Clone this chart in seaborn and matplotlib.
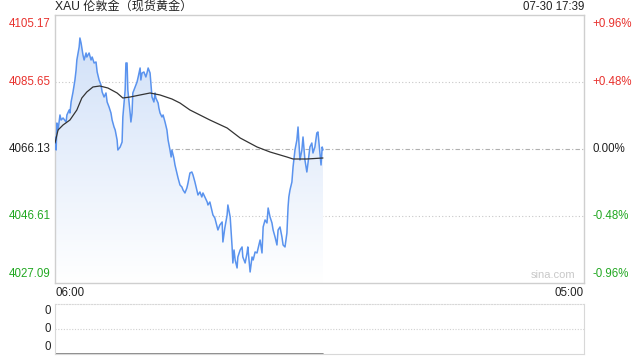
import numpy as np
import pandas as pd
import matplotlib
matplotlib.use("Agg")
import matplotlib.pyplot as plt
import seaborn as sns
from matplotlib.patches import Polygon
from matplotlib.colors import LinearSegmentedColormap

# ---------------- data ----------------
title = "XAU 伦敦金（现货黄金）"
stamp = "07-30 17:39"
prev_close = 4066.13
left_ticks = [4105.17, 4085.65, 4066.13, 4046.61, 4027.09]
right_ticks = ["+0.96%", "+0.48%", "0.00%", "-0.48%", "-0.96%"]
x_labels = ["06:00", "05:00"]
session_minutes = 1380  # 06:00 -> 05:00 next day

minutes = [0, 3, 5, 8, 13, 16, 21, 29, 31, 37, 39, 42, 47, 52, 55, 57, 63, 65, 68, 73,
           76, 81, 83, 89, 94, 97, 102, 107, 110, 115, 120, 123, 128, 133, 136, 141, 146, 149, 154, 157,
           162, 164, 170, 175, 177, 183, 185, 188, 190, 196, 198, 201, 203, 209, 214, 217, 222, 224, 227, 232,
           237, 240, 243, 248, 250, 253, 258, 261, 263, 269, 271, 274, 279, 282, 287, 292, 295, 300, 303, 305,
           310, 313, 318, 321, 326, 331, 334, 339, 344, 347, 352, 357, 360, 365, 370, 373, 378, 383, 386, 391,
           397, 399, 404, 410, 412, 417, 423, 425, 430, 436, 438, 443, 449, 451, 457, 462, 464, 467, 470, 475,
           477, 483, 488, 490, 496, 501, 503, 509, 514, 517, 522, 527, 530, 535, 540, 543, 548, 553, 556, 561,
           566, 569, 574, 579, 582, 587, 592, 595, 600, 605, 608, 610, 613, 618, 621, 626, 631, 634, 637, 639,
           644, 647, 652, 657, 660, 665, 670, 673, 678, 683, 686, 691, 694, 697, 699]
prices = [4069.63, 4065.84, 4073.71, 4071.67, 4076.04, 4074.58, 4075.17, 4074.00, 4076.04, 4077.50,
          4076.62, 4079.83, 4082.74, 4086.24, 4089.15, 4092.06, 4095.85, 4098.47, 4097.01, 4093.52,
          4092.06, 4094.10, 4092.93, 4094.10, 4092.06, 4092.93, 4091.19, 4091.48, 4088.57, 4086.24,
          4084.78, 4082.74, 4081.28, 4082.45, 4079.83, 4078.37, 4076.62, 4074.58, 4072.54, 4071.67,
          4068.76, 4065.84, 4066.72, 4068.17, 4075.46, 4083.32, 4091.19, 4091.19, 4083.32, 4076.62,
          4074.00, 4076.62, 4082.45, 4084.20, 4085.65, 4087.11, 4089.73, 4086.24, 4088.27, 4088.57,
          4087.11, 4088.27, 4089.73, 4088.27, 4085.36, 4081.28, 4079.83, 4082.45, 4080.99, 4079.53,
          4078.08, 4076.62, 4075.46, 4076.04, 4074.00, 4071.67, 4068.76, 4065.84, 4063.80, 4065.84,
          4063.51, 4061.47, 4059.14, 4057.69, 4055.65, 4055.06, 4054.19, 4053.32, 4054.77, 4056.23,
          4059.14, 4059.43, 4058.56, 4056.52, 4054.19, 4052.73, 4053.61, 4052.15, 4053.32, 4052.15,
          4050.69, 4049.82, 4050.69, 4047.78, 4046.91, 4046.03, 4043.41, 4042.54, 4043.99, 4044.87,
          4039.04, 4043.12, 4046.91, 4049.82, 4046.32, 4037.59, 4032.92, 4036.71, 4033.80, 4031.47,
          4034.67, 4036.71, 4037.59, 4034.67, 4032.92, 4035.84, 4037.59, 4030.30, 4034.67, 4033.80,
          4036.13, 4035.84, 4037.29, 4039.62, 4035.84, 4043.41, 4045.45, 4044.58, 4048.94, 4046.32,
          4044.58, 4042.54, 4040.50, 4038.17, 4042.54, 4043.41, 4040.50, 4038.17, 4037.59, 4041.66,
          4049.24, 4052.15, 4054.19, 4056.52, 4060.89, 4065.84, 4068.76, 4072.54, 4066.72, 4062.93,
          4065.84, 4069.63, 4062.93, 4059.43, 4062.05, 4066.72, 4067.88, 4064.97, 4066.72, 4070.80,
          4071.09, 4065.26, 4061.47, 4066.72, 4065.84]

avg_minutes = [0, 8, 21, 39, 57, 70, 83, 99, 117, 138, 162, 177, 196, 222, 248, 274, 305, 326, 352,
               378, 404, 449, 483, 527, 561, 605, 621, 657, 699]
avg_prices = [4067.88, 4071.67, 4073.13, 4074.58, 4077.50, 4080.99, 4082.74, 4084.20, 4084.49, 4083.90,
              4082.45, 4080.99, 4081.28, 4081.87, 4082.45, 4081.87, 4080.70, 4079.53, 4077.50, 4076.04,
              4074.58, 4072.25, 4069.34, 4066.72, 4065.26, 4063.80, 4063.22, 4063.22, 4063.51]

volume_labels = ["0", "0", "0"]

# ---------------- style ----------------
sns.set_style("white")
plt.rcParams["font.family"] = ["Liberation Sans", "Noto Sans CJK SC", "DejaVu Sans"]

RED = "#e8322e"
GREEN = "#22a822"
DARK = "#222222"
LINE = "#5a93ee"
BORDER = "#cfcfcf"

fig = plt.figure(figsize=(6.4, 3.6), dpi=100)
W, H = 640, 360
ax = fig.add_axes([55 / W, 1 - 283 / H, 529 / W, 268 / H])
axv = fig.add_axes([55 / W, 1 - 354 / H, 529 / W, 50 / H])

ymin, ymax = left_ticks[-1], left_ticks[0]

df = pd.DataFrame({"minute": minutes, "price": prices})
dfa = pd.DataFrame({"minute": avg_minutes, "price": avg_prices})

# gradient fill under the price line
xs = np.asarray(minutes, float)
ys = np.asarray(prices, float)
verts = np.column_stack([np.r_[xs[0], xs, xs[-1]], np.r_[ymin, ys, ymin]])
patch = Polygon(verts, closed=True, facecolor="none", edgecolor="none")
ax.add_patch(patch)
cmap = LinearSegmentedColormap.from_list("g", ["#ffffff", "#d0e0f8"])
grad = np.linspace(0, 1, 256).reshape(-1, 1)
im = ax.imshow(grad, extent=[xs[0], xs[-1], ymin, 4100], origin="lower",
               aspect="auto", cmap=cmap, zorder=1)
im.set_clip_path(patch)

# reference lines
for v in (left_ticks[1], left_ticks[3]):
    ax.axhline(v, color="#c8c8c8", lw=0.8, ls=(0, (1, 2)), zorder=0.5)
ax.axhline(prev_close, color="#b0b0b0", lw=0.8, ls=(0, (4, 2, 1, 2)), zorder=0.5)

sns.lineplot(data=df, x="minute", y="price", ax=ax, color=LINE, lw=1.1, zorder=3)
sns.lineplot(data=dfa, x="minute", y="price", ax=ax, color="#333333", lw=0.9, zorder=4)

ax.set_xlim(0, session_minutes)
ax.set_ylim(ymin, ymax)
ax.set_xticks([])
ax.set_yticks([])
ax.set_xlabel("")
ax.set_ylabel("")
for s in ax.spines.values():
    s.set_color(BORDER)
    s.set_linewidth(1.0)

# left & right axis labels
cols = [RED, RED, DARK, GREEN, GREEN]
vas = ["top", "center", "center", "center", "bottom"]
offs = [-2, 0, 0, 0, 2]
for v, r, c, va, o in zip(left_ticks, right_ticks, cols, vas, offs):
    ax.annotate(f"{v:.2f}", xy=(0, v), xycoords=("axes fraction", "data"),
                xytext=(-3, o), textcoords="offset points", ha="right", va=va,
                fontsize=8.3, color=c)
    ax.annotate(r, xy=(1, v), xycoords=("axes fraction", "data"),
                xytext=(6, o), textcoords="offset points", ha="left", va=va,
                fontsize=8.3, color=c)

fig.text(55 / W, 1 - 7 / H, title, ha="left", va="center", fontsize=8.7, color=DARK)
fig.text(584 / W, 1 - 7 / H, stamp, ha="right", va="center", fontsize=8.3, color=DARK)
ax.text(0.983, 0.012, "sina.com", transform=ax.transAxes, ha="right", va="bottom",
        fontsize=8, color="#c8c8c8")
fig.text(56 / W, 1 - 293 / H, x_labels[0], ha="left", va="center", fontsize=8.3, color=DARK)
fig.text(584 / W, 1 - 293 / H, x_labels[1], ha="right", va="center", fontsize=8.3, color=DARK)

# volume panel
axv.set_xlim(0, session_minutes)
axv.set_ylim(0, 2)
axv.set_xticks([])
axv.set_yticks([])
for s in axv.spines.values():
    s.set_color("#d8d8d8")
    s.set_linewidth(0.8)
axv.spines["top"].set_linestyle((0, (1, 1.5)))
axv.axhline(1, color="#d0d0d0", lw=0.8, ls=(0, (1, 1.5)))
axv.plot([0, minutes[-1]], [0.02, 0.02], color="#777777", lw=1.2)
for yv, va, o in zip([2, 1, 0], ["top", "center", "bottom"], [-1, 0, 1]):
    axv.annotate(volume_labels[0], xy=(0, yv), xycoords=("axes fraction", "data"),
                 xytext=(-3, o), textcoords="offset points", ha="right", va=va,
                 fontsize=8.3, color=DARK)

fig.savefig("out.png", dpi=100)
